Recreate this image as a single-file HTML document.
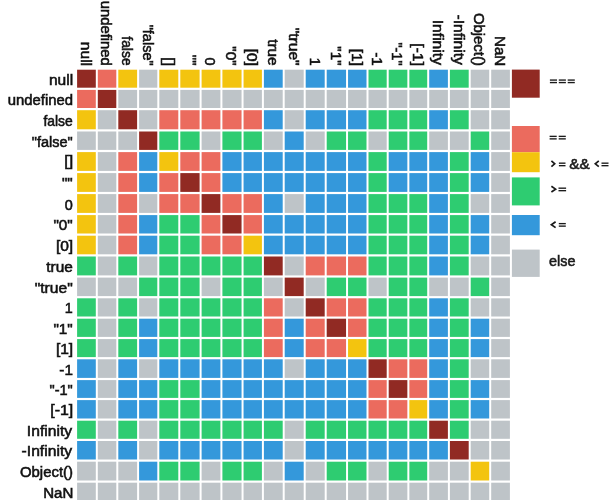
<!DOCTYPE html>
<html><head><meta charset="utf-8"><style>
html,body{margin:0;padding:0;background:#fff;width:610px;height:500px;overflow:hidden}
svg{display:block;filter:blur(0.45px)}
text{font-family:"Liberation Sans",sans-serif;font-size:14.6px;fill:#111;stroke:#111;stroke-width:0.55px}
text.lg{font-size:15px;fill:#1a1a1a;stroke:#1a1a1a;stroke-width:0.55px}
</style></head><body>
<svg width="610" height="500" viewBox="0 0 610 500">
<rect width="610" height="500" fill="#fff"/>
<rect x="77.10" y="69.70" width="18.70" height="18.00" fill="#912a23"/><rect x="97.80" y="69.70" width="18.50" height="18.00" fill="#eb6b5e"/><rect x="118.30" y="69.70" width="18.80" height="18.00" fill="#f3c40f"/><rect x="139.10" y="69.70" width="18.20" height="18.00" fill="#bec4c8"/><rect x="159.30" y="69.70" width="19.00" height="18.00" fill="#f3c40f"/><rect x="180.30" y="69.70" width="19.30" height="18.00" fill="#f3c40f"/><rect x="201.60" y="69.70" width="18.80" height="18.00" fill="#f3c40f"/><rect x="222.40" y="69.70" width="19.15" height="18.00" fill="#f3c40f"/><rect x="243.55" y="69.70" width="18.35" height="18.00" fill="#f3c40f"/><rect x="263.90" y="69.70" width="18.80" height="18.00" fill="#3498db"/><rect x="284.70" y="69.70" width="19.00" height="18.00" fill="#bec4c8"/><rect x="305.70" y="69.70" width="19.00" height="18.00" fill="#3498db"/><rect x="326.70" y="69.70" width="19.35" height="18.00" fill="#3498db"/><rect x="348.05" y="69.70" width="18.45" height="18.00" fill="#3498db"/><rect x="368.50" y="69.70" width="18.20" height="18.00" fill="#2ecc71"/><rect x="388.70" y="69.70" width="18.65" height="18.00" fill="#2ecc71"/><rect x="409.35" y="69.70" width="17.85" height="18.00" fill="#2ecc71"/><rect x="429.20" y="69.70" width="18.70" height="18.00" fill="#3498db"/><rect x="449.90" y="69.70" width="18.80" height="18.00" fill="#2ecc71"/><rect x="470.70" y="69.70" width="18.50" height="18.00" fill="#bec4c8"/><rect x="491.20" y="69.70" width="18.70" height="18.00" fill="#bec4c8"/><rect x="77.10" y="89.90" width="18.70" height="18.10" fill="#eb6b5e"/><rect x="97.80" y="89.90" width="18.50" height="18.10" fill="#912a23"/><rect x="118.30" y="89.90" width="18.80" height="18.10" fill="#bec4c8"/><rect x="139.10" y="89.90" width="18.20" height="18.10" fill="#bec4c8"/><rect x="159.30" y="89.90" width="19.00" height="18.10" fill="#bec4c8"/><rect x="180.30" y="89.90" width="19.30" height="18.10" fill="#bec4c8"/><rect x="201.60" y="89.90" width="18.80" height="18.10" fill="#bec4c8"/><rect x="222.40" y="89.90" width="19.15" height="18.10" fill="#bec4c8"/><rect x="243.55" y="89.90" width="18.35" height="18.10" fill="#bec4c8"/><rect x="263.90" y="89.90" width="18.80" height="18.10" fill="#bec4c8"/><rect x="284.70" y="89.90" width="19.00" height="18.10" fill="#bec4c8"/><rect x="305.70" y="89.90" width="19.00" height="18.10" fill="#bec4c8"/><rect x="326.70" y="89.90" width="19.35" height="18.10" fill="#bec4c8"/><rect x="348.05" y="89.90" width="18.45" height="18.10" fill="#bec4c8"/><rect x="368.50" y="89.90" width="18.20" height="18.10" fill="#bec4c8"/><rect x="388.70" y="89.90" width="18.65" height="18.10" fill="#bec4c8"/><rect x="409.35" y="89.90" width="17.85" height="18.10" fill="#bec4c8"/><rect x="429.20" y="89.90" width="18.70" height="18.10" fill="#bec4c8"/><rect x="449.90" y="89.90" width="18.80" height="18.10" fill="#bec4c8"/><rect x="470.70" y="89.90" width="18.50" height="18.10" fill="#bec4c8"/><rect x="491.20" y="89.90" width="18.70" height="18.10" fill="#bec4c8"/><rect x="77.10" y="110.20" width="18.70" height="19.10" fill="#f3c40f"/><rect x="97.80" y="110.20" width="18.50" height="19.10" fill="#bec4c8"/><rect x="118.30" y="110.20" width="18.80" height="19.10" fill="#912a23"/><rect x="139.10" y="110.20" width="18.20" height="19.10" fill="#bec4c8"/><rect x="159.30" y="110.20" width="19.00" height="19.10" fill="#eb6b5e"/><rect x="180.30" y="110.20" width="19.30" height="19.10" fill="#eb6b5e"/><rect x="201.60" y="110.20" width="18.80" height="19.10" fill="#eb6b5e"/><rect x="222.40" y="110.20" width="19.15" height="19.10" fill="#eb6b5e"/><rect x="243.55" y="110.20" width="18.35" height="19.10" fill="#eb6b5e"/><rect x="263.90" y="110.20" width="18.80" height="19.10" fill="#3498db"/><rect x="284.70" y="110.20" width="19.00" height="19.10" fill="#bec4c8"/><rect x="305.70" y="110.20" width="19.00" height="19.10" fill="#3498db"/><rect x="326.70" y="110.20" width="19.35" height="19.10" fill="#3498db"/><rect x="348.05" y="110.20" width="18.45" height="19.10" fill="#3498db"/><rect x="368.50" y="110.20" width="18.20" height="19.10" fill="#2ecc71"/><rect x="388.70" y="110.20" width="18.65" height="19.10" fill="#2ecc71"/><rect x="409.35" y="110.20" width="17.85" height="19.10" fill="#2ecc71"/><rect x="429.20" y="110.20" width="18.70" height="19.10" fill="#3498db"/><rect x="449.90" y="110.20" width="18.80" height="19.10" fill="#2ecc71"/><rect x="470.70" y="110.20" width="18.50" height="19.10" fill="#bec4c8"/><rect x="491.20" y="110.20" width="18.70" height="19.10" fill="#bec4c8"/><rect x="77.10" y="131.50" width="18.70" height="18.40" fill="#bec4c8"/><rect x="97.80" y="131.50" width="18.50" height="18.40" fill="#bec4c8"/><rect x="118.30" y="131.50" width="18.80" height="18.40" fill="#bec4c8"/><rect x="139.10" y="131.50" width="18.20" height="18.40" fill="#912a23"/><rect x="159.30" y="131.50" width="19.00" height="18.40" fill="#2ecc71"/><rect x="180.30" y="131.50" width="19.30" height="18.40" fill="#2ecc71"/><rect x="201.60" y="131.50" width="18.80" height="18.40" fill="#bec4c8"/><rect x="222.40" y="131.50" width="19.15" height="18.40" fill="#2ecc71"/><rect x="243.55" y="131.50" width="18.35" height="18.40" fill="#2ecc71"/><rect x="263.90" y="131.50" width="18.80" height="18.40" fill="#bec4c8"/><rect x="284.70" y="131.50" width="19.00" height="18.40" fill="#3498db"/><rect x="305.70" y="131.50" width="19.00" height="18.40" fill="#bec4c8"/><rect x="326.70" y="131.50" width="19.35" height="18.40" fill="#2ecc71"/><rect x="348.05" y="131.50" width="18.45" height="18.40" fill="#2ecc71"/><rect x="368.50" y="131.50" width="18.20" height="18.40" fill="#bec4c8"/><rect x="388.70" y="131.50" width="18.65" height="18.40" fill="#2ecc71"/><rect x="409.35" y="131.50" width="17.85" height="18.40" fill="#2ecc71"/><rect x="429.20" y="131.50" width="18.70" height="18.40" fill="#bec4c8"/><rect x="449.90" y="131.50" width="18.80" height="18.40" fill="#bec4c8"/><rect x="470.70" y="131.50" width="18.50" height="18.40" fill="#2ecc71"/><rect x="491.20" y="131.50" width="18.70" height="18.40" fill="#bec4c8"/><rect x="77.10" y="152.10" width="18.70" height="18.80" fill="#f3c40f"/><rect x="97.80" y="152.10" width="18.50" height="18.80" fill="#bec4c8"/><rect x="118.30" y="152.10" width="18.80" height="18.80" fill="#eb6b5e"/><rect x="139.10" y="152.10" width="18.20" height="18.80" fill="#3498db"/><rect x="159.30" y="152.10" width="19.00" height="18.80" fill="#f3c40f"/><rect x="180.30" y="152.10" width="19.30" height="18.80" fill="#eb6b5e"/><rect x="201.60" y="152.10" width="18.80" height="18.80" fill="#eb6b5e"/><rect x="222.40" y="152.10" width="19.15" height="18.80" fill="#3498db"/><rect x="243.55" y="152.10" width="18.35" height="18.80" fill="#3498db"/><rect x="263.90" y="152.10" width="18.80" height="18.80" fill="#3498db"/><rect x="284.70" y="152.10" width="19.00" height="18.80" fill="#3498db"/><rect x="305.70" y="152.10" width="19.00" height="18.80" fill="#3498db"/><rect x="326.70" y="152.10" width="19.35" height="18.80" fill="#3498db"/><rect x="348.05" y="152.10" width="18.45" height="18.80" fill="#3498db"/><rect x="368.50" y="152.10" width="18.20" height="18.80" fill="#2ecc71"/><rect x="388.70" y="152.10" width="18.65" height="18.80" fill="#3498db"/><rect x="409.35" y="152.10" width="17.85" height="18.80" fill="#3498db"/><rect x="429.20" y="152.10" width="18.70" height="18.80" fill="#3498db"/><rect x="449.90" y="152.10" width="18.80" height="18.80" fill="#2ecc71"/><rect x="470.70" y="152.10" width="18.50" height="18.80" fill="#3498db"/><rect x="491.20" y="152.10" width="18.70" height="18.80" fill="#bec4c8"/><rect x="77.10" y="173.10" width="18.70" height="18.80" fill="#f3c40f"/><rect x="97.80" y="173.10" width="18.50" height="18.80" fill="#bec4c8"/><rect x="118.30" y="173.10" width="18.80" height="18.80" fill="#eb6b5e"/><rect x="139.10" y="173.10" width="18.20" height="18.80" fill="#3498db"/><rect x="159.30" y="173.10" width="19.00" height="18.80" fill="#eb6b5e"/><rect x="180.30" y="173.10" width="19.30" height="18.80" fill="#912a23"/><rect x="201.60" y="173.10" width="18.80" height="18.80" fill="#eb6b5e"/><rect x="222.40" y="173.10" width="19.15" height="18.80" fill="#3498db"/><rect x="243.55" y="173.10" width="18.35" height="18.80" fill="#3498db"/><rect x="263.90" y="173.10" width="18.80" height="18.80" fill="#3498db"/><rect x="284.70" y="173.10" width="19.00" height="18.80" fill="#3498db"/><rect x="305.70" y="173.10" width="19.00" height="18.80" fill="#3498db"/><rect x="326.70" y="173.10" width="19.35" height="18.80" fill="#3498db"/><rect x="348.05" y="173.10" width="18.45" height="18.80" fill="#3498db"/><rect x="368.50" y="173.10" width="18.20" height="18.80" fill="#2ecc71"/><rect x="388.70" y="173.10" width="18.65" height="18.80" fill="#3498db"/><rect x="409.35" y="173.10" width="17.85" height="18.80" fill="#3498db"/><rect x="429.20" y="173.10" width="18.70" height="18.80" fill="#3498db"/><rect x="449.90" y="173.10" width="18.80" height="18.80" fill="#2ecc71"/><rect x="470.70" y="173.10" width="18.50" height="18.80" fill="#3498db"/><rect x="491.20" y="173.10" width="18.70" height="18.80" fill="#bec4c8"/><rect x="77.10" y="194.10" width="18.70" height="18.80" fill="#f3c40f"/><rect x="97.80" y="194.10" width="18.50" height="18.80" fill="#bec4c8"/><rect x="118.30" y="194.10" width="18.80" height="18.80" fill="#eb6b5e"/><rect x="139.10" y="194.10" width="18.20" height="18.80" fill="#bec4c8"/><rect x="159.30" y="194.10" width="19.00" height="18.80" fill="#eb6b5e"/><rect x="180.30" y="194.10" width="19.30" height="18.80" fill="#eb6b5e"/><rect x="201.60" y="194.10" width="18.80" height="18.80" fill="#912a23"/><rect x="222.40" y="194.10" width="19.15" height="18.80" fill="#eb6b5e"/><rect x="243.55" y="194.10" width="18.35" height="18.80" fill="#eb6b5e"/><rect x="263.90" y="194.10" width="18.80" height="18.80" fill="#3498db"/><rect x="284.70" y="194.10" width="19.00" height="18.80" fill="#bec4c8"/><rect x="305.70" y="194.10" width="19.00" height="18.80" fill="#3498db"/><rect x="326.70" y="194.10" width="19.35" height="18.80" fill="#3498db"/><rect x="348.05" y="194.10" width="18.45" height="18.80" fill="#3498db"/><rect x="368.50" y="194.10" width="18.20" height="18.80" fill="#2ecc71"/><rect x="388.70" y="194.10" width="18.65" height="18.80" fill="#2ecc71"/><rect x="409.35" y="194.10" width="17.85" height="18.80" fill="#2ecc71"/><rect x="429.20" y="194.10" width="18.70" height="18.80" fill="#3498db"/><rect x="449.90" y="194.10" width="18.80" height="18.80" fill="#2ecc71"/><rect x="470.70" y="194.10" width="18.50" height="18.80" fill="#bec4c8"/><rect x="491.20" y="194.10" width="18.70" height="18.80" fill="#bec4c8"/><rect x="77.10" y="215.10" width="18.70" height="18.40" fill="#f3c40f"/><rect x="97.80" y="215.10" width="18.50" height="18.40" fill="#bec4c8"/><rect x="118.30" y="215.10" width="18.80" height="18.40" fill="#eb6b5e"/><rect x="139.10" y="215.10" width="18.20" height="18.40" fill="#3498db"/><rect x="159.30" y="215.10" width="19.00" height="18.40" fill="#2ecc71"/><rect x="180.30" y="215.10" width="19.30" height="18.40" fill="#2ecc71"/><rect x="201.60" y="215.10" width="18.80" height="18.40" fill="#eb6b5e"/><rect x="222.40" y="215.10" width="19.15" height="18.40" fill="#912a23"/><rect x="243.55" y="215.10" width="18.35" height="18.40" fill="#eb6b5e"/><rect x="263.90" y="215.10" width="18.80" height="18.40" fill="#3498db"/><rect x="284.70" y="215.10" width="19.00" height="18.40" fill="#3498db"/><rect x="305.70" y="215.10" width="19.00" height="18.40" fill="#3498db"/><rect x="326.70" y="215.10" width="19.35" height="18.40" fill="#3498db"/><rect x="348.05" y="215.10" width="18.45" height="18.40" fill="#3498db"/><rect x="368.50" y="215.10" width="18.20" height="18.40" fill="#2ecc71"/><rect x="388.70" y="215.10" width="18.65" height="18.40" fill="#2ecc71"/><rect x="409.35" y="215.10" width="17.85" height="18.40" fill="#2ecc71"/><rect x="429.20" y="215.10" width="18.70" height="18.40" fill="#3498db"/><rect x="449.90" y="215.10" width="18.80" height="18.40" fill="#2ecc71"/><rect x="470.70" y="215.10" width="18.50" height="18.40" fill="#3498db"/><rect x="491.20" y="215.10" width="18.70" height="18.40" fill="#bec4c8"/><rect x="77.10" y="235.70" width="18.70" height="18.60" fill="#f3c40f"/><rect x="97.80" y="235.70" width="18.50" height="18.60" fill="#bec4c8"/><rect x="118.30" y="235.70" width="18.80" height="18.60" fill="#eb6b5e"/><rect x="139.10" y="235.70" width="18.20" height="18.60" fill="#3498db"/><rect x="159.30" y="235.70" width="19.00" height="18.60" fill="#2ecc71"/><rect x="180.30" y="235.70" width="19.30" height="18.60" fill="#2ecc71"/><rect x="201.60" y="235.70" width="18.80" height="18.60" fill="#eb6b5e"/><rect x="222.40" y="235.70" width="19.15" height="18.60" fill="#eb6b5e"/><rect x="243.55" y="235.70" width="18.35" height="18.60" fill="#f3c40f"/><rect x="263.90" y="235.70" width="18.80" height="18.60" fill="#3498db"/><rect x="284.70" y="235.70" width="19.00" height="18.60" fill="#3498db"/><rect x="305.70" y="235.70" width="19.00" height="18.60" fill="#3498db"/><rect x="326.70" y="235.70" width="19.35" height="18.60" fill="#3498db"/><rect x="348.05" y="235.70" width="18.45" height="18.60" fill="#3498db"/><rect x="368.50" y="235.70" width="18.20" height="18.60" fill="#2ecc71"/><rect x="388.70" y="235.70" width="18.65" height="18.60" fill="#2ecc71"/><rect x="409.35" y="235.70" width="17.85" height="18.60" fill="#2ecc71"/><rect x="429.20" y="235.70" width="18.70" height="18.60" fill="#3498db"/><rect x="449.90" y="235.70" width="18.80" height="18.60" fill="#2ecc71"/><rect x="470.70" y="235.70" width="18.50" height="18.60" fill="#3498db"/><rect x="491.20" y="235.70" width="18.70" height="18.60" fill="#bec4c8"/><rect x="77.10" y="256.50" width="18.70" height="18.90" fill="#2ecc71"/><rect x="97.80" y="256.50" width="18.50" height="18.90" fill="#bec4c8"/><rect x="118.30" y="256.50" width="18.80" height="18.90" fill="#2ecc71"/><rect x="139.10" y="256.50" width="18.20" height="18.90" fill="#bec4c8"/><rect x="159.30" y="256.50" width="19.00" height="18.90" fill="#2ecc71"/><rect x="180.30" y="256.50" width="19.30" height="18.90" fill="#2ecc71"/><rect x="201.60" y="256.50" width="18.80" height="18.90" fill="#2ecc71"/><rect x="222.40" y="256.50" width="19.15" height="18.90" fill="#2ecc71"/><rect x="243.55" y="256.50" width="18.35" height="18.90" fill="#2ecc71"/><rect x="263.90" y="256.50" width="18.80" height="18.90" fill="#912a23"/><rect x="284.70" y="256.50" width="19.00" height="18.90" fill="#bec4c8"/><rect x="305.70" y="256.50" width="19.00" height="18.90" fill="#eb6b5e"/><rect x="326.70" y="256.50" width="19.35" height="18.90" fill="#eb6b5e"/><rect x="348.05" y="256.50" width="18.45" height="18.90" fill="#eb6b5e"/><rect x="368.50" y="256.50" width="18.20" height="18.90" fill="#2ecc71"/><rect x="388.70" y="256.50" width="18.65" height="18.90" fill="#2ecc71"/><rect x="409.35" y="256.50" width="17.85" height="18.90" fill="#2ecc71"/><rect x="429.20" y="256.50" width="18.70" height="18.90" fill="#3498db"/><rect x="449.90" y="256.50" width="18.80" height="18.90" fill="#2ecc71"/><rect x="470.70" y="256.50" width="18.50" height="18.90" fill="#bec4c8"/><rect x="491.20" y="256.50" width="18.70" height="18.90" fill="#bec4c8"/><rect x="77.10" y="277.60" width="18.70" height="18.50" fill="#bec4c8"/><rect x="97.80" y="277.60" width="18.50" height="18.50" fill="#bec4c8"/><rect x="118.30" y="277.60" width="18.80" height="18.50" fill="#bec4c8"/><rect x="139.10" y="277.60" width="18.20" height="18.50" fill="#2ecc71"/><rect x="159.30" y="277.60" width="19.00" height="18.50" fill="#2ecc71"/><rect x="180.30" y="277.60" width="19.30" height="18.50" fill="#2ecc71"/><rect x="201.60" y="277.60" width="18.80" height="18.50" fill="#bec4c8"/><rect x="222.40" y="277.60" width="19.15" height="18.50" fill="#2ecc71"/><rect x="243.55" y="277.60" width="18.35" height="18.50" fill="#2ecc71"/><rect x="263.90" y="277.60" width="18.80" height="18.50" fill="#bec4c8"/><rect x="284.70" y="277.60" width="19.00" height="18.50" fill="#912a23"/><rect x="305.70" y="277.60" width="19.00" height="18.50" fill="#bec4c8"/><rect x="326.70" y="277.60" width="19.35" height="18.50" fill="#2ecc71"/><rect x="348.05" y="277.60" width="18.45" height="18.50" fill="#2ecc71"/><rect x="368.50" y="277.60" width="18.20" height="18.50" fill="#bec4c8"/><rect x="388.70" y="277.60" width="18.65" height="18.50" fill="#2ecc71"/><rect x="409.35" y="277.60" width="17.85" height="18.50" fill="#2ecc71"/><rect x="429.20" y="277.60" width="18.70" height="18.50" fill="#bec4c8"/><rect x="449.90" y="277.60" width="18.80" height="18.50" fill="#bec4c8"/><rect x="470.70" y="277.60" width="18.50" height="18.50" fill="#2ecc71"/><rect x="491.20" y="277.60" width="18.70" height="18.50" fill="#bec4c8"/><rect x="77.10" y="298.30" width="18.70" height="18.20" fill="#2ecc71"/><rect x="97.80" y="298.30" width="18.50" height="18.20" fill="#bec4c8"/><rect x="118.30" y="298.30" width="18.80" height="18.20" fill="#2ecc71"/><rect x="139.10" y="298.30" width="18.20" height="18.20" fill="#bec4c8"/><rect x="159.30" y="298.30" width="19.00" height="18.20" fill="#2ecc71"/><rect x="180.30" y="298.30" width="19.30" height="18.20" fill="#2ecc71"/><rect x="201.60" y="298.30" width="18.80" height="18.20" fill="#2ecc71"/><rect x="222.40" y="298.30" width="19.15" height="18.20" fill="#2ecc71"/><rect x="243.55" y="298.30" width="18.35" height="18.20" fill="#2ecc71"/><rect x="263.90" y="298.30" width="18.80" height="18.20" fill="#eb6b5e"/><rect x="284.70" y="298.30" width="19.00" height="18.20" fill="#bec4c8"/><rect x="305.70" y="298.30" width="19.00" height="18.20" fill="#912a23"/><rect x="326.70" y="298.30" width="19.35" height="18.20" fill="#eb6b5e"/><rect x="348.05" y="298.30" width="18.45" height="18.20" fill="#eb6b5e"/><rect x="368.50" y="298.30" width="18.20" height="18.20" fill="#2ecc71"/><rect x="388.70" y="298.30" width="18.65" height="18.20" fill="#2ecc71"/><rect x="409.35" y="298.30" width="17.85" height="18.20" fill="#2ecc71"/><rect x="429.20" y="298.30" width="18.70" height="18.20" fill="#3498db"/><rect x="449.90" y="298.30" width="18.80" height="18.20" fill="#2ecc71"/><rect x="470.70" y="298.30" width="18.50" height="18.20" fill="#bec4c8"/><rect x="491.20" y="298.30" width="18.70" height="18.20" fill="#bec4c8"/><rect x="77.10" y="318.70" width="18.70" height="18.20" fill="#2ecc71"/><rect x="97.80" y="318.70" width="18.50" height="18.20" fill="#bec4c8"/><rect x="118.30" y="318.70" width="18.80" height="18.20" fill="#2ecc71"/><rect x="139.10" y="318.70" width="18.20" height="18.20" fill="#3498db"/><rect x="159.30" y="318.70" width="19.00" height="18.20" fill="#2ecc71"/><rect x="180.30" y="318.70" width="19.30" height="18.20" fill="#2ecc71"/><rect x="201.60" y="318.70" width="18.80" height="18.20" fill="#2ecc71"/><rect x="222.40" y="318.70" width="19.15" height="18.20" fill="#2ecc71"/><rect x="243.55" y="318.70" width="18.35" height="18.20" fill="#2ecc71"/><rect x="263.90" y="318.70" width="18.80" height="18.20" fill="#eb6b5e"/><rect x="284.70" y="318.70" width="19.00" height="18.20" fill="#3498db"/><rect x="305.70" y="318.70" width="19.00" height="18.20" fill="#eb6b5e"/><rect x="326.70" y="318.70" width="19.35" height="18.20" fill="#912a23"/><rect x="348.05" y="318.70" width="18.45" height="18.20" fill="#eb6b5e"/><rect x="368.50" y="318.70" width="18.20" height="18.20" fill="#2ecc71"/><rect x="388.70" y="318.70" width="18.65" height="18.20" fill="#2ecc71"/><rect x="409.35" y="318.70" width="17.85" height="18.20" fill="#2ecc71"/><rect x="429.20" y="318.70" width="18.70" height="18.20" fill="#3498db"/><rect x="449.90" y="318.70" width="18.80" height="18.20" fill="#2ecc71"/><rect x="470.70" y="318.70" width="18.50" height="18.20" fill="#3498db"/><rect x="491.20" y="318.70" width="18.70" height="18.20" fill="#bec4c8"/><rect x="77.10" y="339.10" width="18.70" height="18.00" fill="#2ecc71"/><rect x="97.80" y="339.10" width="18.50" height="18.00" fill="#bec4c8"/><rect x="118.30" y="339.10" width="18.80" height="18.00" fill="#2ecc71"/><rect x="139.10" y="339.10" width="18.20" height="18.00" fill="#3498db"/><rect x="159.30" y="339.10" width="19.00" height="18.00" fill="#2ecc71"/><rect x="180.30" y="339.10" width="19.30" height="18.00" fill="#2ecc71"/><rect x="201.60" y="339.10" width="18.80" height="18.00" fill="#2ecc71"/><rect x="222.40" y="339.10" width="19.15" height="18.00" fill="#2ecc71"/><rect x="243.55" y="339.10" width="18.35" height="18.00" fill="#2ecc71"/><rect x="263.90" y="339.10" width="18.80" height="18.00" fill="#eb6b5e"/><rect x="284.70" y="339.10" width="19.00" height="18.00" fill="#3498db"/><rect x="305.70" y="339.10" width="19.00" height="18.00" fill="#eb6b5e"/><rect x="326.70" y="339.10" width="19.35" height="18.00" fill="#eb6b5e"/><rect x="348.05" y="339.10" width="18.45" height="18.00" fill="#f3c40f"/><rect x="368.50" y="339.10" width="18.20" height="18.00" fill="#2ecc71"/><rect x="388.70" y="339.10" width="18.65" height="18.00" fill="#2ecc71"/><rect x="409.35" y="339.10" width="17.85" height="18.00" fill="#2ecc71"/><rect x="429.20" y="339.10" width="18.70" height="18.00" fill="#3498db"/><rect x="449.90" y="339.10" width="18.80" height="18.00" fill="#2ecc71"/><rect x="470.70" y="339.10" width="18.50" height="18.00" fill="#3498db"/><rect x="491.20" y="339.10" width="18.70" height="18.00" fill="#bec4c8"/><rect x="77.10" y="359.30" width="18.70" height="18.60" fill="#3498db"/><rect x="97.80" y="359.30" width="18.50" height="18.60" fill="#bec4c8"/><rect x="118.30" y="359.30" width="18.80" height="18.60" fill="#3498db"/><rect x="139.10" y="359.30" width="18.20" height="18.60" fill="#bec4c8"/><rect x="159.30" y="359.30" width="19.00" height="18.60" fill="#3498db"/><rect x="180.30" y="359.30" width="19.30" height="18.60" fill="#3498db"/><rect x="201.60" y="359.30" width="18.80" height="18.60" fill="#3498db"/><rect x="222.40" y="359.30" width="19.15" height="18.60" fill="#3498db"/><rect x="243.55" y="359.30" width="18.35" height="18.60" fill="#3498db"/><rect x="263.90" y="359.30" width="18.80" height="18.60" fill="#3498db"/><rect x="284.70" y="359.30" width="19.00" height="18.60" fill="#bec4c8"/><rect x="305.70" y="359.30" width="19.00" height="18.60" fill="#3498db"/><rect x="326.70" y="359.30" width="19.35" height="18.60" fill="#3498db"/><rect x="348.05" y="359.30" width="18.45" height="18.60" fill="#3498db"/><rect x="368.50" y="359.30" width="18.20" height="18.60" fill="#912a23"/><rect x="388.70" y="359.30" width="18.65" height="18.60" fill="#eb6b5e"/><rect x="409.35" y="359.30" width="17.85" height="18.60" fill="#eb6b5e"/><rect x="429.20" y="359.30" width="18.70" height="18.60" fill="#3498db"/><rect x="449.90" y="359.30" width="18.80" height="18.60" fill="#2ecc71"/><rect x="470.70" y="359.30" width="18.50" height="18.60" fill="#bec4c8"/><rect x="491.20" y="359.30" width="18.70" height="18.60" fill="#bec4c8"/><rect x="77.10" y="380.10" width="18.70" height="17.80" fill="#3498db"/><rect x="97.80" y="380.10" width="18.50" height="17.80" fill="#bec4c8"/><rect x="118.30" y="380.10" width="18.80" height="17.80" fill="#3498db"/><rect x="139.10" y="380.10" width="18.20" height="17.80" fill="#3498db"/><rect x="159.30" y="380.10" width="19.00" height="17.80" fill="#2ecc71"/><rect x="180.30" y="380.10" width="19.30" height="17.80" fill="#2ecc71"/><rect x="201.60" y="380.10" width="18.80" height="17.80" fill="#3498db"/><rect x="222.40" y="380.10" width="19.15" height="17.80" fill="#3498db"/><rect x="243.55" y="380.10" width="18.35" height="17.80" fill="#3498db"/><rect x="263.90" y="380.10" width="18.80" height="17.80" fill="#3498db"/><rect x="284.70" y="380.10" width="19.00" height="17.80" fill="#3498db"/><rect x="305.70" y="380.10" width="19.00" height="17.80" fill="#3498db"/><rect x="326.70" y="380.10" width="19.35" height="17.80" fill="#3498db"/><rect x="348.05" y="380.10" width="18.45" height="17.80" fill="#3498db"/><rect x="368.50" y="380.10" width="18.20" height="17.80" fill="#eb6b5e"/><rect x="388.70" y="380.10" width="18.65" height="17.80" fill="#912a23"/><rect x="409.35" y="380.10" width="17.85" height="17.80" fill="#eb6b5e"/><rect x="429.20" y="380.10" width="18.70" height="17.80" fill="#3498db"/><rect x="449.90" y="380.10" width="18.80" height="17.80" fill="#2ecc71"/><rect x="470.70" y="380.10" width="18.50" height="17.80" fill="#3498db"/><rect x="491.20" y="380.10" width="18.70" height="17.80" fill="#bec4c8"/><rect x="77.10" y="400.10" width="18.70" height="18.40" fill="#3498db"/><rect x="97.80" y="400.10" width="18.50" height="18.40" fill="#bec4c8"/><rect x="118.30" y="400.10" width="18.80" height="18.40" fill="#3498db"/><rect x="139.10" y="400.10" width="18.20" height="18.40" fill="#3498db"/><rect x="159.30" y="400.10" width="19.00" height="18.40" fill="#2ecc71"/><rect x="180.30" y="400.10" width="19.30" height="18.40" fill="#2ecc71"/><rect x="201.60" y="400.10" width="18.80" height="18.40" fill="#3498db"/><rect x="222.40" y="400.10" width="19.15" height="18.40" fill="#3498db"/><rect x="243.55" y="400.10" width="18.35" height="18.40" fill="#3498db"/><rect x="263.90" y="400.10" width="18.80" height="18.40" fill="#3498db"/><rect x="284.70" y="400.10" width="19.00" height="18.40" fill="#3498db"/><rect x="305.70" y="400.10" width="19.00" height="18.40" fill="#3498db"/><rect x="326.70" y="400.10" width="19.35" height="18.40" fill="#3498db"/><rect x="348.05" y="400.10" width="18.45" height="18.40" fill="#3498db"/><rect x="368.50" y="400.10" width="18.20" height="18.40" fill="#eb6b5e"/><rect x="388.70" y="400.10" width="18.65" height="18.40" fill="#eb6b5e"/><rect x="409.35" y="400.10" width="17.85" height="18.40" fill="#f3c40f"/><rect x="429.20" y="400.10" width="18.70" height="18.40" fill="#3498db"/><rect x="449.90" y="400.10" width="18.80" height="18.40" fill="#2ecc71"/><rect x="470.70" y="400.10" width="18.50" height="18.40" fill="#3498db"/><rect x="491.20" y="400.10" width="18.70" height="18.40" fill="#bec4c8"/><rect x="77.10" y="420.70" width="18.70" height="18.10" fill="#2ecc71"/><rect x="97.80" y="420.70" width="18.50" height="18.10" fill="#bec4c8"/><rect x="118.30" y="420.70" width="18.80" height="18.10" fill="#2ecc71"/><rect x="139.10" y="420.70" width="18.20" height="18.10" fill="#bec4c8"/><rect x="159.30" y="420.70" width="19.00" height="18.10" fill="#2ecc71"/><rect x="180.30" y="420.70" width="19.30" height="18.10" fill="#2ecc71"/><rect x="201.60" y="420.70" width="18.80" height="18.10" fill="#2ecc71"/><rect x="222.40" y="420.70" width="19.15" height="18.10" fill="#2ecc71"/><rect x="243.55" y="420.70" width="18.35" height="18.10" fill="#2ecc71"/><rect x="263.90" y="420.70" width="18.80" height="18.10" fill="#2ecc71"/><rect x="284.70" y="420.70" width="19.00" height="18.10" fill="#bec4c8"/><rect x="305.70" y="420.70" width="19.00" height="18.10" fill="#2ecc71"/><rect x="326.70" y="420.70" width="19.35" height="18.10" fill="#2ecc71"/><rect x="348.05" y="420.70" width="18.45" height="18.10" fill="#2ecc71"/><rect x="368.50" y="420.70" width="18.20" height="18.10" fill="#2ecc71"/><rect x="388.70" y="420.70" width="18.65" height="18.10" fill="#2ecc71"/><rect x="409.35" y="420.70" width="17.85" height="18.10" fill="#2ecc71"/><rect x="429.20" y="420.70" width="18.70" height="18.10" fill="#912a23"/><rect x="449.90" y="420.70" width="18.80" height="18.10" fill="#2ecc71"/><rect x="470.70" y="420.70" width="18.50" height="18.10" fill="#bec4c8"/><rect x="491.20" y="420.70" width="18.70" height="18.10" fill="#bec4c8"/><rect x="77.10" y="441.00" width="18.70" height="18.50" fill="#3498db"/><rect x="97.80" y="441.00" width="18.50" height="18.50" fill="#bec4c8"/><rect x="118.30" y="441.00" width="18.80" height="18.50" fill="#3498db"/><rect x="139.10" y="441.00" width="18.20" height="18.50" fill="#bec4c8"/><rect x="159.30" y="441.00" width="19.00" height="18.50" fill="#3498db"/><rect x="180.30" y="441.00" width="19.30" height="18.50" fill="#3498db"/><rect x="201.60" y="441.00" width="18.80" height="18.50" fill="#3498db"/><rect x="222.40" y="441.00" width="19.15" height="18.50" fill="#3498db"/><rect x="243.55" y="441.00" width="18.35" height="18.50" fill="#3498db"/><rect x="263.90" y="441.00" width="18.80" height="18.50" fill="#3498db"/><rect x="284.70" y="441.00" width="19.00" height="18.50" fill="#bec4c8"/><rect x="305.70" y="441.00" width="19.00" height="18.50" fill="#3498db"/><rect x="326.70" y="441.00" width="19.35" height="18.50" fill="#3498db"/><rect x="348.05" y="441.00" width="18.45" height="18.50" fill="#3498db"/><rect x="368.50" y="441.00" width="18.20" height="18.50" fill="#3498db"/><rect x="388.70" y="441.00" width="18.65" height="18.50" fill="#3498db"/><rect x="409.35" y="441.00" width="17.85" height="18.50" fill="#3498db"/><rect x="429.20" y="441.00" width="18.70" height="18.50" fill="#3498db"/><rect x="449.90" y="441.00" width="18.80" height="18.50" fill="#912a23"/><rect x="470.70" y="441.00" width="18.50" height="18.50" fill="#bec4c8"/><rect x="491.20" y="441.00" width="18.70" height="18.50" fill="#bec4c8"/><rect x="77.10" y="461.70" width="18.70" height="18.80" fill="#bec4c8"/><rect x="97.80" y="461.70" width="18.50" height="18.80" fill="#bec4c8"/><rect x="118.30" y="461.70" width="18.80" height="18.80" fill="#bec4c8"/><rect x="139.10" y="461.70" width="18.20" height="18.80" fill="#3498db"/><rect x="159.30" y="461.70" width="19.00" height="18.80" fill="#2ecc71"/><rect x="180.30" y="461.70" width="19.30" height="18.80" fill="#2ecc71"/><rect x="201.60" y="461.70" width="18.80" height="18.80" fill="#bec4c8"/><rect x="222.40" y="461.70" width="19.15" height="18.80" fill="#2ecc71"/><rect x="243.55" y="461.70" width="18.35" height="18.80" fill="#2ecc71"/><rect x="263.90" y="461.70" width="18.80" height="18.80" fill="#bec4c8"/><rect x="284.70" y="461.70" width="19.00" height="18.80" fill="#3498db"/><rect x="305.70" y="461.70" width="19.00" height="18.80" fill="#bec4c8"/><rect x="326.70" y="461.70" width="19.35" height="18.80" fill="#2ecc71"/><rect x="348.05" y="461.70" width="18.45" height="18.80" fill="#2ecc71"/><rect x="368.50" y="461.70" width="18.20" height="18.80" fill="#bec4c8"/><rect x="388.70" y="461.70" width="18.65" height="18.80" fill="#2ecc71"/><rect x="409.35" y="461.70" width="17.85" height="18.80" fill="#2ecc71"/><rect x="429.20" y="461.70" width="18.70" height="18.80" fill="#bec4c8"/><rect x="449.90" y="461.70" width="18.80" height="18.80" fill="#bec4c8"/><rect x="470.70" y="461.70" width="18.50" height="18.80" fill="#f3c40f"/><rect x="491.20" y="461.70" width="18.70" height="18.80" fill="#bec4c8"/><rect x="77.10" y="482.70" width="18.70" height="18.40" fill="#bec4c8"/><rect x="97.80" y="482.70" width="18.50" height="18.40" fill="#bec4c8"/><rect x="118.30" y="482.70" width="18.80" height="18.40" fill="#bec4c8"/><rect x="139.10" y="482.70" width="18.20" height="18.40" fill="#bec4c8"/><rect x="159.30" y="482.70" width="19.00" height="18.40" fill="#bec4c8"/><rect x="180.30" y="482.70" width="19.30" height="18.40" fill="#bec4c8"/><rect x="201.60" y="482.70" width="18.80" height="18.40" fill="#bec4c8"/><rect x="222.40" y="482.70" width="19.15" height="18.40" fill="#bec4c8"/><rect x="243.55" y="482.70" width="18.35" height="18.40" fill="#bec4c8"/><rect x="263.90" y="482.70" width="18.80" height="18.40" fill="#bec4c8"/><rect x="284.70" y="482.70" width="19.00" height="18.40" fill="#bec4c8"/><rect x="305.70" y="482.70" width="19.00" height="18.40" fill="#bec4c8"/><rect x="326.70" y="482.70" width="19.35" height="18.40" fill="#bec4c8"/><rect x="348.05" y="482.70" width="18.45" height="18.40" fill="#bec4c8"/><rect x="368.50" y="482.70" width="18.20" height="18.40" fill="#bec4c8"/><rect x="388.70" y="482.70" width="18.65" height="18.40" fill="#bec4c8"/><rect x="409.35" y="482.70" width="17.85" height="18.40" fill="#bec4c8"/><rect x="429.20" y="482.70" width="18.70" height="18.40" fill="#bec4c8"/><rect x="449.90" y="482.70" width="18.80" height="18.40" fill="#bec4c8"/><rect x="470.70" y="482.70" width="18.50" height="18.40" fill="#bec4c8"/><rect x="491.20" y="482.70" width="18.70" height="18.40" fill="#bec4c8"/>
<rect x="511.9" y="69.6" width="27.80" height="28.10" fill="#912a23"/><rect x="511.9" y="126" width="27.80" height="26.20" fill="#eb6b5e"/><rect x="511.9" y="152.2" width="27.80" height="20.00" fill="#f3c40f"/><rect x="511.9" y="177.4" width="27.80" height="28.00" fill="#2ecc71"/><rect x="511.9" y="215" width="27.80" height="20.20" fill="#3498db"/><rect x="511.9" y="249.6" width="27.80" height="27.30" fill="#bec4c8"/><rect x="549.90" y="79.40" width="7.10" height="1.35" fill="#1a1a1a"/><rect x="549.90" y="81.90" width="7.10" height="1.35" fill="#1a1a1a"/><rect x="558.80" y="79.40" width="7.10" height="1.35" fill="#1a1a1a"/><rect x="558.80" y="81.90" width="7.10" height="1.35" fill="#1a1a1a"/><rect x="567.70" y="79.40" width="7.10" height="1.35" fill="#1a1a1a"/><rect x="567.70" y="81.90" width="7.10" height="1.35" fill="#1a1a1a"/><rect x="549.60" y="135.70" width="7.10" height="1.35" fill="#1a1a1a"/><rect x="549.60" y="138.20" width="7.10" height="1.35" fill="#1a1a1a"/><rect x="558.70" y="135.70" width="7.10" height="1.35" fill="#1a1a1a"/><rect x="558.70" y="138.20" width="7.10" height="1.35" fill="#1a1a1a"/><polyline points="551.40,160.90 554.70,163.80 551.40,166.70" fill="none" stroke="#1a1a1a" stroke-width="1.7" stroke-linejoin="miter" stroke-linecap="butt"/><rect x="558.90" y="162.50" width="6.60" height="1.35" fill="#1a1a1a"/><rect x="558.90" y="165.00" width="6.60" height="1.35" fill="#1a1a1a"/><polyline points="598.80,160.90 595.30,163.80 598.80,166.70" fill="none" stroke="#1a1a1a" stroke-width="1.7" stroke-linejoin="miter" stroke-linecap="butt"/><rect x="601.50" y="162.50" width="7.00" height="1.35" fill="#1a1a1a"/><rect x="601.50" y="165.00" width="7.00" height="1.35" fill="#1a1a1a"/><text class="lg" transform="translate(569.36,168.60) scale(1.0235,1)">&amp;&amp;</text><polyline points="551.40,186.25 555.60,189.15 551.40,192.05" fill="none" stroke="#1a1a1a" stroke-width="1.7" stroke-linejoin="miter" stroke-linecap="butt"/><rect x="558.50" y="187.50" width="7.60" height="1.35" fill="#1a1a1a"/><rect x="558.50" y="190.00" width="7.60" height="1.35" fill="#1a1a1a"/><polyline points="555.60,221.80 551.40,224.70 555.60,227.60" fill="none" stroke="#1a1a1a" stroke-width="1.7" stroke-linejoin="miter" stroke-linecap="butt"/><rect x="558.80" y="222.95" width="7.00" height="1.35" fill="#1a1a1a"/><rect x="558.80" y="225.45" width="7.00" height="1.35" fill="#1a1a1a"/><text class="lg" transform="translate(548.99,265.60) scale(0.9613,1)">else</text>
<text transform="translate(48.97,84.70) scale(1.0635,1)">null</text><text transform="translate(80.85,41.87) rotate(90) scale(1.0635,1)">null</text><text transform="translate(7.73,104.95) scale(1.0185,1)">undefined</text><text transform="translate(101.45,0.63) rotate(90) scale(1.0185,1)">undefined</text><text transform="translate(43.40,125.75) scale(0.9505,1)">false</text><text transform="translate(122.10,36.30) rotate(90) scale(0.9505,1)">false</text><text transform="translate(31.78,146.70) scale(0.9934,1)">&quot;false&quot;</text><text transform="translate(142.60,24.68) rotate(90) scale(0.9934,1)">&quot;false&quot;</text><text transform="translate(64.36,165.80) scale(1.0943,1)">[]</text><text transform="translate(164.20,57.26) rotate(90) scale(1.0943,1)">[]</text><text transform="translate(61.95,188.00) scale(1.0411,1)">&quot;&quot;</text><text transform="translate(185.75,54.85) rotate(90) scale(1.0411,1)">&quot;&quot;</text><text transform="translate(64.64,209.50) scale(0.9887,1)">0</text><text transform="translate(205.40,57.54) rotate(90) scale(0.9887,1)">0</text><text transform="translate(53.45,230.30) scale(1.0438,1)">&quot;0&quot;</text><text transform="translate(226.38,46.35) rotate(90) scale(1.0438,1)">&quot;0&quot;</text><text transform="translate(55.89,251.00) scale(1.0671,1)">[0]</text><text transform="translate(247.12,48.79) rotate(90) scale(1.0671,1)">[0]</text><text transform="translate(46.27,271.95) scale(1.0540,1)">true</text><text transform="translate(267.70,39.17) rotate(90) scale(1.0540,1)">true</text><text transform="translate(34.74,292.85) scale(1.0705,1)">&quot;true&quot;</text><text transform="translate(288.60,27.64) rotate(90) scale(1.0705,1)">&quot;true&quot;</text><text transform="translate(64.80,313.40) scale(0.9849,1)">1</text><text transform="translate(309.60,57.70) rotate(90) scale(0.9849,1)">1</text><text transform="translate(53.45,333.80) scale(1.0438,1)">&quot;1&quot;</text><text transform="translate(330.77,46.35) rotate(90) scale(1.0438,1)">&quot;1&quot;</text><text transform="translate(55.89,354.10) scale(1.0671,1)">[1]</text><text transform="translate(351.67,48.79) rotate(90) scale(1.0671,1)">[1]</text><text transform="translate(59.32,374.60) scale(1.0413,1)">-1</text><text transform="translate(372.00,52.22) rotate(90) scale(1.0413,1)">-1</text><text transform="translate(49.48,395.00) scale(0.9952,1)">&quot;-1&quot;</text><text transform="translate(392.42,42.38) rotate(90) scale(0.9952,1)">&quot;-1&quot;</text><text transform="translate(50.27,415.30) scale(1.0887,1)">[-1]</text><text transform="translate(412.67,43.17) rotate(90) scale(1.0887,1)">[-1]</text><text transform="translate(26.85,435.75) scale(1.0730,1)">Infinity</text><text transform="translate(432.95,19.75) rotate(90) scale(1.0730,1)">Infinity</text><text transform="translate(21.60,456.25) scale(1.0737,1)">-Infinity</text><text transform="translate(453.70,14.50) rotate(90) scale(1.0737,1)">-Infinity</text><text transform="translate(19.99,477.10) scale(1.0214,1)">Object()</text><text transform="translate(474.35,12.89) rotate(90) scale(1.0214,1)">Object()</text><text transform="translate(43.16,497.90) scale(1.0329,1)">NaN</text><text transform="translate(494.95,36.06) rotate(90) scale(1.0329,1)">NaN</text>
</svg>
</body></html>
